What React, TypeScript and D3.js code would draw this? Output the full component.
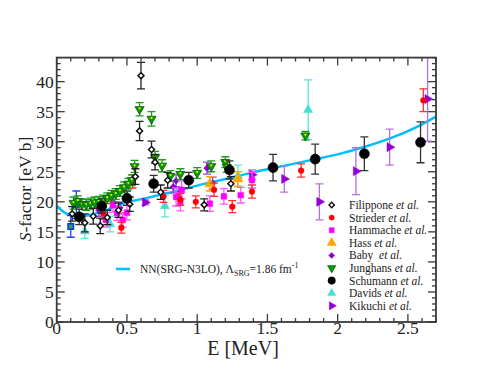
import React, { useRef, useEffect } from 'react';
import * as d3 from 'd3';

// axis ticks
const energyTicks = [0, 0.5, 1, 1.5, 2, 2.5];
const sFactorTicks = [0, 5, 10, 15, 20, 25, 30, 35, 40];

// theory curve NN(SRG-N3LO)
const curveE = [0, 0.05, 0.1, 0.17, 0.25, 0.35, 0.5, 0.65, 0.8, 1.0, 1.2, 1.4, 1.6, 1.8, 2.0, 2.2, 2.4, 2.6, 2.7];
const curveS = [19.3, 18.3, 17.8, 17.6, 17.9, 18.6, 19.9, 20.7, 21.5, 22.7, 23.8, 24.9, 25.9, 26.9, 27.9, 29.2, 30.8, 32.9, 34.2];

// data sets: [E, S, error]
const unlabeled = [[0.10, 15.9, 1.8], [0.14, 19.5, 2.3]];
const filippone = [
  [0.11, 18.0, 1.2], [0.20, 16.5, 1.5], [0.26, 17.6, 1.3], [0.31, 16.0, 1.3], [0.36, 17.4, 1.2],
  [0.44, 18.6, 1.2], [0.52, 19.6, 1.2], [0.56, 24.2, 1.3], [0.59, 31.8, 1.6], [0.60, 41.0, 2.2],
  [0.675, 28.7, 1.4], [0.70, 26.6, 1.3], [0.74, 21.6, 1.2], [0.79, 23.6, 1.3], [1.05, 19.5, 1.0],
  [1.24, 23.0, 1.2],
];
const strieder = [
  [0.33, 18.1, 1.0], [0.46, 15.7, 0.9], [0.54, 23.4, 1.1], [0.76, 20.9, 1.0], [0.88, 20.4, 1.0],
  [0.99, 20.0, 1.0], [1.12, 22.0, 1.1], [1.25, 19.2, 1.0], [1.39, 21.7, 1.1], [1.74, 25.2, 1.1],
  [2.61, 36.9, 1.9],
];
const hammache = [
  [0.35, 17.0, 1.2], [0.40, 19.5, 1.2], [0.43, 18.1, 1.2], [0.47, 17.0, 1.2], [0.50, 18.2, 1.2],
  [0.85, 20.8, 1.5], [0.88, 20.0, 1.5], [0.89, 22.0, 1.5], [1.09, 19.7, 1.3], [1.19, 20.9, 1.3],
  [1.31, 21.1, 1.3], [1.39, 23.6, 1.3],
];
const hass = [[1.09, 23.0, 1.2], [1.29, 23.8, 1.2]];
const baby = [
  [0.30, 18.6, 1.0], [0.40, 20.0, 1.0], [0.45, 19.0, 1.0], [0.83, 22.5, 1.0], [0.85, 23.5, 1.0],
  [0.87, 21.4, 1.0], [1.07, 25.6, 1.0], [1.11, 23.1, 1.0],
];
const junghans = [
  [0.12, 19.8, 1.0], [0.15, 20.1, 0.9], [0.18, 19.6, 0.9], [0.21, 19.5, 0.9], [0.24, 19.7, 0.9],
  [0.27, 19.9, 0.9], [0.30, 20.0, 0.9], [0.33, 20.2, 0.9], [0.36, 20.6, 0.9], [0.39, 21.0, 0.9],
  [0.42, 21.3, 0.9], [0.45, 21.8, 0.9], [0.48, 22.4, 0.9], [0.51, 23.0, 0.9], [0.535, 23.6, 0.9],
  [0.555, 25.9, 1.0], [0.59, 35.4, 1.1], [0.675, 33.8, 1.2], [0.70, 27.4, 1.0], [0.75, 26.0, 1.0],
  [0.81, 24.3, 0.9], [0.88, 24.6, 0.9], [1.00, 24.8, 0.9], [1.10, 25.9, 0.9], [1.20, 26.6, 0.9],
  [1.21, 25.8, 0.9], [1.77, 31.0, 0.7],
];
const schumann = [
  [0.16, 17.5, 1.3], [0.32, 19.3, 1.2], [0.50, 20.6, 1.2], [0.69, 23.0, 1.4], [0.94, 23.6, 1.3],
  [1.23, 25.3, 1.5], [1.54, 25.7, 2.2], [1.84, 27.1, 2.5], [2.19, 28.0, 2.8], [2.59, 29.9, 3.4],
];
const davids = [[0.20, 15.1, 1.2], [0.38, 16.3, 1.3], [0.77, 19.3, 1.8], [1.29, 24.3, 1.8], [1.79, 35.3, 5.0]];
const kikuchi = [
  [0.63, 19.9, 0.4], [1.39, 24.5, 0.8], [1.62, 23.8, 2.2], [1.87, 20.0, 3.0], [2.13, 25.1, 3.9],
  [2.37, 29.1, 3.0], [2.64, 37.1, 7.0],
];

const legendNames = ['Filippone', 'Strieder', 'Hammache', 'Hass', 'Baby ', 'Junghans', 'Schumann', 'Davids', 'Kikuchi'];

const W = 491;
const H = 379;

export default function App() {
  const svgRef = useRef<SVGSVGElement>(null);

  useEffect(() => {
    const svg = d3.select(svgRef.current);
    svg.selectAll('*').remove();

    const x = d3.scaleLinear().domain([0, 2.7]).range([56.7, 436]);
    const y = d3.scaleLinear().domain([0, 44]).range([322, 57.6]);
    const [x0, x1] = x.range();
    const [y0, y1] = y.range();
    const font = "'Liberation Serif', 'Times New Roman', Times, serif";

    svg.append('defs').append('clipPath').attr('id', 'plot')
      .append('rect').attr('x', x0).attr('y', y1).attr('width', x1 - x0).attr('height', y0 - y1);

    // ticks (inside, all four sides)
    const axisColor = '#3a3a3a';
    const ticks = svg.append('g').attr('stroke', axisColor).attr('stroke-width', 1.3);
    d3.range(0, 27.5).forEach(i => {
      const e = i / 10;
      const len = i % 5 === 0 ? 8 : 4;
      ticks.append('line').attr('x1', x(e)).attr('x2', x(e)).attr('y1', y0).attr('y2', y0 - len);
      ticks.append('line').attr('x1', x(e)).attr('x2', x(e)).attr('y1', y1).attr('y2', y1 + len);
    });
    d3.range(0, 45).forEach(s => {
      const len = s % 5 === 0 ? 8 : 4;
      ticks.append('line').attr('y1', y(s)).attr('y2', y(s)).attr('x1', x0).attr('x2', x0 + len);
      ticks.append('line').attr('y1', y(s)).attr('y2', y(s)).attr('x1', x1).attr('x2', x1 - len);
    });

    // tick labels
    svg.append('g').selectAll('text').data(energyTicks).enter().append('text')
      .attr('x', d => x(d)).attr('y', y0 + 11.5)
      .attr('text-anchor', 'middle').attr('font-family', font).attr('font-size', 17.5).attr('fill', '#222')
      .text(d => String(d));
    svg.append('g').selectAll('text').data(sFactorTicks).enter().append('text')
      .attr('x', x0 - 3).attr('y', d => y(d) + 6)
      .attr('text-anchor', 'end').attr('font-family', font).attr('font-size', 17.5).attr('fill', '#222')
      .text(d => String(d));

    // axis titles
    svg.append('text').attr('x', 243).attr('y', 355).attr('text-anchor', 'middle')
      .attr('font-family', font).attr('font-size', 20).attr('fill', '#222').text('E [MeV]');
    const yt = svg.append('text').attr('transform', 'translate(31,189) rotate(-90)').attr('text-anchor', 'middle')
      .attr('font-family', font).attr('font-size', 17.5).attr('fill', '#222');
    yt.append('tspan').attr('font-style', 'italic').text('S');
    yt.append('tspan').text('-factor [eV b]');

    const plot = svg.append('g').attr('clip-path', 'url(#plot)');

    // theory curve
    const line = d3.line<number>().x((_, i) => x(curveE[i])).y(d => y(d)).curve(d3.curveMonotoneX);
    plot.append('path').datum(curveS).attr('d', line).attr('fill', 'none')
      .attr('stroke', '#00bfff').attr('stroke-width', 2.5);

    const sym = (type: d3.SymbolType, size: number) => d3.symbol().type(type).size(size)();

    type Style = {
      path: string; fill: string; stroke: string; sw: number; err: string; rot?: number; dot?: string;
    };
    const styles: Style[] = [
      { path: sym(d3.symbolSquare, 18), fill: '#fff', stroke: '#111', sw: 1.5, err: '#222', rot: 45 },
      { path: sym(d3.symbolCircle, 26), fill: '#ff0000', stroke: '#ff0000', sw: 0.5, err: '#ff3030' },
      { path: sym(d3.symbolSquare, 32), fill: '#ff00ff', stroke: '#ff00ff', sw: 0.5, err: '#ff55ff' },
      { path: sym(d3.symbolTriangle, 45), fill: '#ffa500', stroke: '#ffa500', sw: 0.5, err: '#ffa500' },
      { path: sym(d3.symbolSquare, 22), fill: '#8a00d4', stroke: '#8a00d4', sw: 0.5, err: '#a040e0', rot: 45 },
      { path: sym(d3.symbolTriangle, 36), fill: '#0a9a0a', stroke: '#006000', sw: 0.8, err: '#1aa01a', rot: 180, dot: '#e8f000' },
      { path: sym(d3.symbolCircle, 80), fill: '#000', stroke: '#000', sw: 0.5, err: '#333' },
      { path: sym(d3.symbolTriangle, 36), fill: '#40e0d0', stroke: '#40e0d0', sw: 0.5, err: '#5fe3d6' },
      { path: sym(d3.symbolTriangle, 36), fill: '#9400d3', stroke: '#9400d3', sw: 0.5, err: '#b370e0', rot: 90 },
    ];
    const blueStyle: Style = { path: sym(d3.symbolSquare, 30), fill: '#20b020', stroke: '#1030ff', sw: 1.5, err: '#2040ff' };

    const drawSet = (data: number[][], st: Style) => {
      const g = plot.append('g');
      const eb = g.append('g').attr('stroke', st.err).attr('stroke-width', 1.3);
      data.forEach(([e, s, err]) => {
        const cx = x(e);
        eb.append('line').attr('x1', cx).attr('x2', cx).attr('y1', y(s - err)).attr('y2', y(s + err));
        [s - err, s + err].forEach(v => {
          eb.append('line').attr('x1', cx - 4).attr('x2', cx + 4).attr('y1', y(v)).attr('y2', y(v));
        });
      });
      data.forEach(([e, s]) => {
        g.append('path').attr('d', st.path)
          .attr('transform', `translate(${x(e)},${y(s)}) rotate(${st.rot || 0})`)
          .attr('fill', st.fill).attr('stroke', st.stroke).attr('stroke-width', st.sw);
        if (st.dot) g.append('circle').attr('cx', x(e)).attr('cy', y(s) - 1).attr('r', 1.1).attr('fill', st.dot);
      });
    };

    drawSet(unlabeled, blueStyle);
    drawSet(davids, styles[7]);
    drawSet(kikuchi, styles[8]);
    drawSet(baby, styles[4]);
    drawSet(hass, styles[3]);
    drawSet(hammache, styles[2]);
    drawSet(strieder, styles[1]);
    drawSet(junghans, styles[5]);
    drawSet(filippone, styles[0]);
    drawSet(schumann, styles[6]);

    // frame
    svg.append('rect').attr('x', x0).attr('y', y1).attr('width', x1 - x0).attr('height', y0 - y1)
      .attr('fill', 'none').attr('stroke', axisColor).attr('stroke-width', 1.8);

    // legend for data sets
    const leg = svg.append('g');
    legendNames.forEach((name, i) => {
      const ly = 205 + i * 12.6;
      const st = styles[i];
      const scale = i === 6 ? 0.75 : 0.9;
      leg.append('path').attr('d', st.path)
        .attr('transform', `translate(331.7,${ly}) rotate(${st.rot || 0}) scale(${scale})`)
        .attr('fill', st.fill).attr('stroke', st.stroke).attr('stroke-width', st.sw);
      const t = leg.append('text').attr('x', 349).attr('y', ly + 4)
        .attr('font-family', font).attr('font-size', 11.5).attr('fill', '#222')
        .attr('xml:space', 'preserve');
      t.append('tspan').text(name + ' ');
      t.append('tspan').attr('font-style', 'italic').text('et al.');
    });

    // legend for theory curve
    svg.append('line').attr('x1', 116).attr('x2', 130).attr('y1', 269).attr('y2', 269)
      .attr('stroke', '#00bfff').attr('stroke-width', 2.5);
    const lt = svg.append('text').attr('x', 140).attr('y', 273)
      .attr('font-family', font).attr('font-size', 11.5).attr('fill', '#222');
    lt.append('tspan').text('NN(SRG-N3LO), \u039B');
    lt.append('tspan').attr('font-size', 8).attr('dy', 3).text('SRG');
    lt.append('tspan').attr('dy', -3).text('=1.86 fm');
    lt.append('tspan').attr('font-size', 8).attr('dy', -5).text('-1');
  }, []);

  return (
    <svg
      ref={svgRef}
      width={W}
      height={H}
      style={{ position: 'absolute', left: 0, top: 0, background: '#fff' }}
    />
  );
}
